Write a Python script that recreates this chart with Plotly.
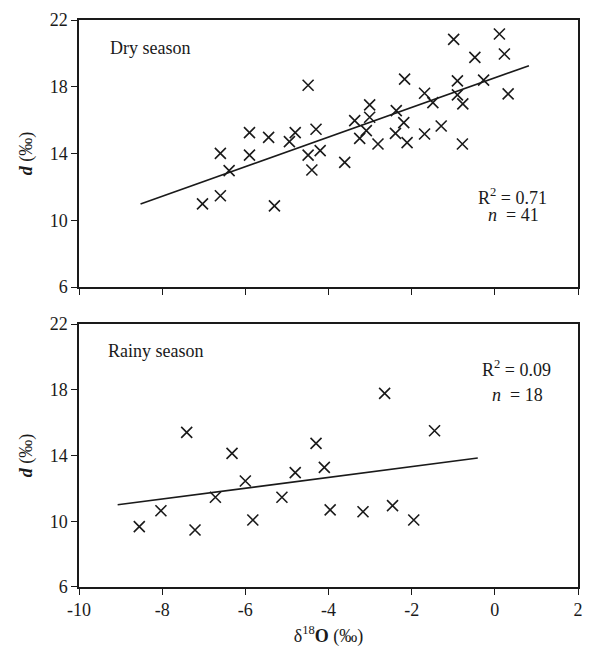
import plotly.graph_objects as go
from plotly.subplots import make_subplots

# Dry season data (delta18O, d-excess)
dry_o18 = [-7.03, -6.60, -6.60, -6.39, -5.90, -5.90, -5.44, -5.30, -4.94, -4.80,
           -4.49, -4.49, -4.40, -4.30, -4.20, -3.61, -3.37, -3.25, -3.01, -3.01,
           -3.09, -2.81, -2.37, -2.39, -2.19, -2.11, -2.17, -1.69, -1.49, -1.69,
           -1.29, -0.99, -0.90, -0.90, -0.77, -0.78, -0.48, -0.27, 0.11, 0.23, 0.32]
dry_d = [10.98, 14.01, 11.47, 12.97, 15.25, 13.90, 14.97, 10.86, 14.71, 15.25,
         18.09, 13.90, 13.01, 15.45, 14.17, 13.47, 15.97, 14.91, 16.91, 16.17,
         15.37, 14.57, 16.57, 15.21, 15.85, 14.65, 18.46, 17.61, 17.05, 15.17,
         15.65, 20.84, 18.35, 17.51, 16.97, 14.57, 19.76, 18.40, 21.16, 19.96, 17.57]

# Rainy season data
rainy_o18 = [-8.55, -8.03, -7.41, -7.21, -6.72, -6.32, -6.00, -5.82, -5.12, -4.80,
             -4.30, -4.10, -3.96, -3.17, -2.46, -1.95, -2.65, -1.45]
rainy_d = [9.67, 10.64, 15.41, 9.47, 11.46, 14.13, 12.45, 10.08, 11.46, 12.96,
           14.74, 13.28, 10.69, 10.58, 10.95, 10.08, 17.78, 15.51]

# Regression lines (end points as read)
dry_fit_x = [-8.52, 0.82]
dry_fit_y = [10.98, 19.26]
rainy_fit_x = [-9.07, -0.41]
rainy_fit_y = [11.00, 13.85]

x_ticks = [-10, -8, -6, -4, -2, 0, 2]
y_ticks = [6, 10, 14, 18, 22]

FONT = "Liberation Serif"
BLACK = "#1a1a1a"

fig = make_subplots(rows=2, cols=1, shared_xaxes=False, vertical_spacing=0.0)

marker = dict(symbol="x-thin", size=11, color=BLACK, line=dict(width=1.6, color=BLACK))

fig.add_trace(go.Scatter(x=dry_o18, y=dry_d, mode="markers", marker=marker,
                         showlegend=False), row=1, col=1)
fig.add_trace(go.Scatter(x=dry_fit_x, y=dry_fit_y, mode="lines",
                         line=dict(color=BLACK, width=1.6), showlegend=False), row=1, col=1)
fig.add_trace(go.Scatter(x=rainy_o18, y=rainy_d, mode="markers", marker=marker,
                         showlegend=False), row=2, col=1)
fig.add_trace(go.Scatter(x=rainy_fit_x, y=rainy_fit_y, mode="lines",
                         line=dict(color=BLACK, width=1.6), showlegend=False), row=2, col=1)

axis_common = dict(showline=True, linecolor=BLACK, linewidth=1.5, mirror=True,
                   ticks="outside", ticklen=6, tickwidth=1.3, tickcolor=BLACK,
                   showgrid=False, zeroline=False, automargin=False,
                   tickfont=dict(family=FONT, size=18, color=BLACK))

fig.update_xaxes(range=[-10, 2], tickvals=x_ticks, **axis_common)
fig.update_xaxes(showticklabels=False, row=1, col=1)
fig.update_xaxes(ticktext=[str(v) for v in x_ticks],
                 title=dict(text="δ<sup>18</sup><b>O</b> (‰)",
                            font=dict(family=FONT, size=18, color=BLACK), standoff=10),
                 row=2, col=1)
fig.update_yaxes(range=[6, 22], tickvals=y_ticks, **axis_common)
for r in (1, 2):
    fig.update_yaxes(title=dict(text="<b><i>d</i></b> (‰)",
                                font=dict(family=FONT, size=18, color=BLACK), standoff=12),
                     row=r, col=1)

# page body has an 8px margin, so the figure is sized to fit inside the window
fig.update_layout(
    width=584, height=649,
    margin=dict(l=71, r=14, t=12, b=70),
    plot_bgcolor="white", paper_bgcolor="white",
    font=dict(family=FONT, size=18, color=BLACK),
    xaxis=dict(domain=[0, 1]),
    yaxis=dict(domain=[0.5291, 1]),
    yaxis2=dict(domain=[0, 0.4638]),
)

ann_font = dict(family=FONT, size=18, color=BLACK)
annotations = [
    dict(text="Dry season", x=-9.31, y=20.34, xref="x", yref="y",
         xanchor="left", yanchor="middle", showarrow=False, font=ann_font),
    dict(text="R<sup>2</sup> = 0.71", x=0.43, y=11.45, xref="x", yref="y",
         xanchor="center", yanchor="middle", showarrow=False, font=ann_font),
    dict(text="<i>n</i>  = 41", x=0.44, y=10.3, xref="x", yref="y",
         xanchor="center", yanchor="middle", showarrow=False, font=ann_font),
    dict(text="Rainy season", x=-9.34, y=20.33, xref="x2", yref="y2",
         xanchor="left", yanchor="middle", showarrow=False, font=ann_font),
    dict(text="R<sup>2</sup> = 0.09", x=0.52, y=19.31, xref="x2", yref="y2",
         xanchor="center", yanchor="middle", showarrow=False, font=ann_font),
    dict(text="<i>n</i>  = 18", x=0.55, y=17.68, xref="x2", yref="y2",
         xanchor="center", yanchor="middle", showarrow=False, font=ann_font),
]
fig.update_layout(annotations=annotations)

fig.write_html("out.html")
